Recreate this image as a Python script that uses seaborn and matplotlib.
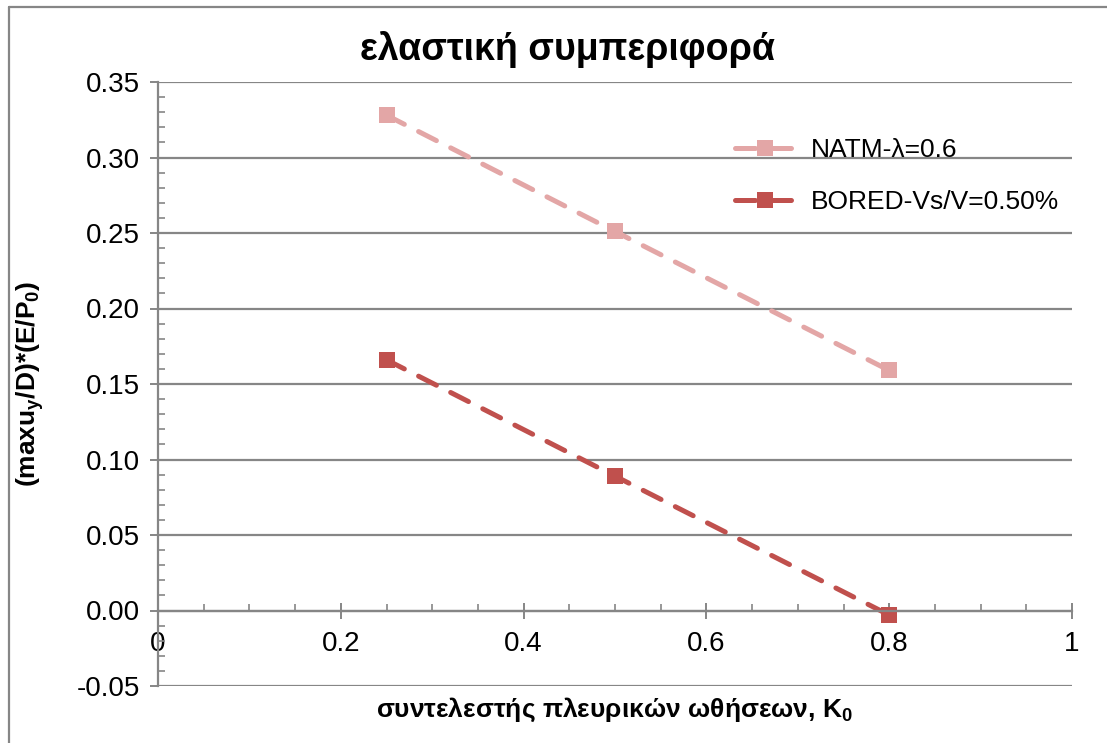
import matplotlib
matplotlib.use("Agg")
import matplotlib.pyplot as plt
from matplotlib.lines import Line2D
from matplotlib.ticker import MultipleLocator, FixedLocator
import seaborn as sns
import pandas as pd

# Lateral earth pressure coefficient values
k0 = [0.25, 0.5, 0.8]
natm = [0.328, 0.251, 0.159]
bored = [0.166, 0.089, -0.003]
series_names = ["NATM-λ=0.6", "BORED-Vs/V=0.50%"]
xticks = [0, 0.2, 0.4, 0.6, 0.8, 1]
xticklabels = ["0", "0.2", "0.4", "0.6", "0.8", "1"]
yticks = [-0.05, 0.0, 0.05, 0.10, 0.15, 0.20, 0.25, 0.30, 0.35]
yticklabels = ["-0.05", "0.00", "0.05", "0.10", "0.15", "0.20", "0.25", "0.30", "0.35"]

df = pd.DataFrame({
    "K0": k0 * 2,
    "value": natm + bored,
    "series": [series_names[0]] * 3 + [series_names[1]] * 3,
})

sns.set_theme(style="white")
plt.rcParams["font.family"] = ["Liberation Sans", "DejaVu Sans"]
plt.rcParams["mathtext.default"] = "regular"
plt.rcParams["text.color"] = "black"
plt.rcParams["xtick.labelcolor"] = "black"
plt.rcParams["ytick.labelcolor"] = "black"

grid_col = "#868686"
colors = {series_names[0]: "#E3A6A6", series_names[1]: "#C0504D"}
dash = (4.0, 3.2)
lw = 3.6

fig = plt.figure(figsize=(11.07, 7.43), dpi=100)
ax = fig.add_axes([158 / 1107, 1 - 686 / 743, (1072 - 158) / 1107, (686 - 82) / 743])

sns.lineplot(
    data=df, x="K0", y="value", hue="series", style="series",
    palette=colors, dashes=[dash, dash], markers=["s", "s"],
    markersize=11, linewidth=lw, markeredgewidth=0, ax=ax, legend=False,
)
for ln in ax.get_lines():
    ln.set_dash_capstyle("round")

ax.set_xlim(0, 1)
ax.set_ylim(-0.05, 0.35)

# Axes styling
for s in ["top", "right"]:
    ax.spines[s].set_visible(False)
ax.spines["bottom"].set_position(("data", 0))
ax.spines["bottom"].set_color(grid_col)
ax.spines["left"].set_color(grid_col)
ax.spines["bottom"].set_linewidth(1.6)
ax.spines["left"].set_linewidth(1.6)

ax.yaxis.set_major_locator(FixedLocator(yticks))
ax.set_yticklabels(yticklabels)
ax.yaxis.set_minor_locator(MultipleLocator(0.01))
ax.xaxis.set_major_locator(FixedLocator(xticks))
ax.set_xticklabels(xticklabels)
ax.xaxis.set_minor_locator(MultipleLocator(0.05))

ax.tick_params(axis="y", which="major", direction="out", length=6, width=1.4,
               color=grid_col, labelsize=20, labelcolor="black", pad=7, left=True)
ax.tick_params(axis="y", which="minor", direction="in", length=5, width=1.2,
               color=grid_col, left=True)
ax.tick_params(axis="x", which="major", direction="inout", length=11, width=1.4,
               color=grid_col, labelsize=20, labelcolor="black", pad=9, bottom=True)
ax.tick_params(axis="x", which="minor", direction="in", length=5, width=1.2,
               color=grid_col, bottom=True)

ax.grid(axis="y", which="major", color=grid_col, linewidth=1.6)
ax.grid(axis="x", visible=False)

ax.set_xlabel("")
ax.set_ylabel("")

# Legend
handles = [
    Line2D([], [], color=colors[n], linewidth=lw, linestyle=(0, dash),
           marker="s", markersize=11, markeredgewidth=0, dash_capstyle="round")
    for n in series_names
]
leg = ax.legend(handles, series_names, loc="upper left",
                bbox_to_anchor=((735 - 158) / 914, 1 - (138 - 82) / 604),
                frameon=False, fontsize=19, handlelength=2.3,
                labelspacing=1.07, handletextpad=0.58, borderaxespad=0, borderpad=0)
for t in leg.get_texts():
    t.set_color("black")

# Titles and axis labels
fig.text(567 / 1107, 1 - 50 / 743, "ελαστική συμπεριφορά", ha="center", va="center",
         fontsize=27, fontweight="bold", color="black")
fig.text(615 / 1107, 1 - 710 / 743, "συντελεστής πλευρικών ωθήσεων, K$_0$",
         ha="center", va="center", fontsize=19, fontweight="bold", color="black")
fig.text(30 / 1107, 1 - 384 / 743, "(maxu$_y$/D)*(E/P$_0$)", ha="center", va="center",
         rotation=90, fontsize=19, fontweight="bold", color="black")

# Chart area frame
fig.add_artist(Line2D([9 / 1107, 9 / 1107], [0, 1 - 7 / 743], transform=fig.transFigure,
                      color=grid_col, linewidth=1.6))
fig.add_artist(Line2D([9 / 1107, 1], [1 - 7 / 743, 1 - 7 / 743], transform=fig.transFigure,
                      color=grid_col, linewidth=1.6))

fig.savefig("out.png", dpi=100)
